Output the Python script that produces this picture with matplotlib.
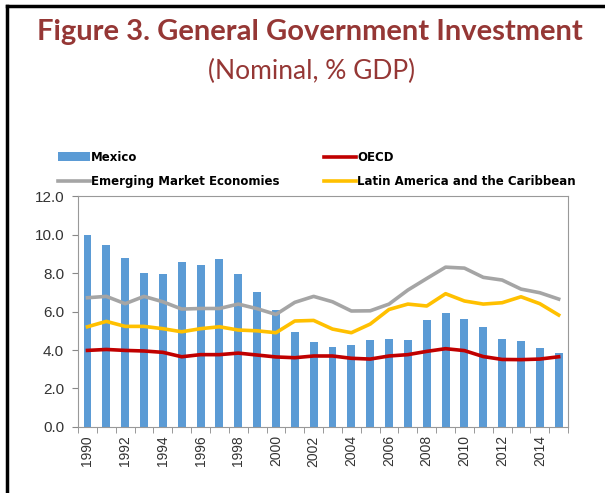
import matplotlib
matplotlib.use("Agg")
import matplotlib.pyplot as plt
from matplotlib.lines import Line2D
import numpy as np

# General government investment, % of GDP
years = list(range(1990, 2016))
mexico = [9.97, 9.45, 8.81, 8.03, 7.93, 8.60, 8.40, 8.72, 7.97, 7.00, 6.06, 4.95, 4.43,
          4.17, 4.26, 4.50, 4.57, 4.54, 5.56, 5.94, 5.63, 5.19, 4.57, 4.47, 4.09, 3.83]
oecd = [3.98, 4.03, 3.98, 3.95, 3.88, 3.65, 3.76, 3.76, 3.84, 3.74, 3.64, 3.60, 3.69,
        3.69, 3.57, 3.53, 3.69, 3.76, 3.93, 4.07, 3.97, 3.66, 3.51, 3.50, 3.53, 3.65]
eme = [6.72, 6.79, 6.41, 6.79, 6.51, 6.13, 6.16, 6.16, 6.39, 6.15, 5.85, 6.48, 6.79,
       6.51, 6.03, 6.04, 6.39, 7.12, 7.72, 8.31, 8.26, 7.78, 7.64, 7.17, 6.98, 6.65]
lac = [5.21, 5.49, 5.23, 5.23, 5.11, 4.95, 5.11, 5.21, 5.04, 5.00, 4.90, 5.51, 5.54,
       5.09, 4.90, 5.35, 6.11, 6.39, 6.29, 6.93, 6.55, 6.39, 6.46, 6.77, 6.41, 5.82]

title_color = '#953735'

fig = plt.figure(figsize=(6.05, 4.93), dpi=100)
ax = fig.add_axes([0.129, 0.134, 0.81, 0.468])

x = np.arange(len(years))
ax.bar(x, mexico, width=0.42, color='#5B9BD5', label='Mexico', zorder=1)
ax.plot(x, eme, color='#A5A5A5', lw=2.6, label='Emerging Market Economies', zorder=2)
ax.plot(x, oecd, color='#C00000', lw=2.6, label='OECD', zorder=3)
ax.plot(x, lac, color='#FFC000', lw=2.6, label='Latin America and the Caribbean', zorder=2)

# Format axes
ax.set_xlim(-0.5, len(years) - 0.5)
ax.set_ylim(0, 12)
ax.set_yticks(np.arange(0, 12.1, 2))
ax.set_yticklabels([f"{v:.1f}" for v in np.arange(0, 12.1, 2)],
                   fontsize=11, family='Liberation Sans', color='#333333')
ax.set_xticks(x[::2])
ax.set_xticklabels([str(y) for y in years[::2]], rotation=90,
                   fontsize=10, family='Liberation Sans', color='#333333')
ax.set_xticks(np.arange(-0.5, len(years)), minor=True)
ax.tick_params(axis='x', which='major', length=0, pad=6)
ax.tick_params(axis='x', which='minor', length=4, color='#888888')
ax.tick_params(axis='y', length=4, color='#888888', pad=6)
for s in ax.spines.values():
    s.set_color('#999999')

handles, labels = ax.get_legend_handles_labels()
order = [labels.index(n) for n in ['Mexico', 'Emerging Market Economies',
                                   'OECD', 'Latin America and the Caribbean']]
fig.legend([handles[i] for i in order], [labels[i] for i in order], ncol=2,
           loc='upper left', bbox_to_anchor=(0.088, 0.704), frameon=False,
           prop={'family': 'DejaVu Sans', 'weight': 'bold', 'size': 8.5},
           handlelength=2.7, handletextpad=0.1, columnspacing=3.8,
           labelspacing=0.95, borderaxespad=0)

fig.text(0.513, 0.936, 'Figure 3. General Government Investment', ha='center', va='center',
         fontsize=21, fontweight='bold', family='Lato', color=title_color)
fig.text(0.515, 0.855, '(Nominal, % GDP)', ha='center', va='center',
         fontsize=19, family='Lato', color=title_color)

# black frame on left and top
fig.add_artist(Line2D([0.011, 0.011], [0, 0.988], transform=fig.transFigure, color='black', lw=2.5))
fig.add_artist(Line2D([0.011, 1.0], [0.988, 0.988], transform=fig.transFigure, color='black', lw=2.5))

fig.savefig('out.png', dpi=100)
